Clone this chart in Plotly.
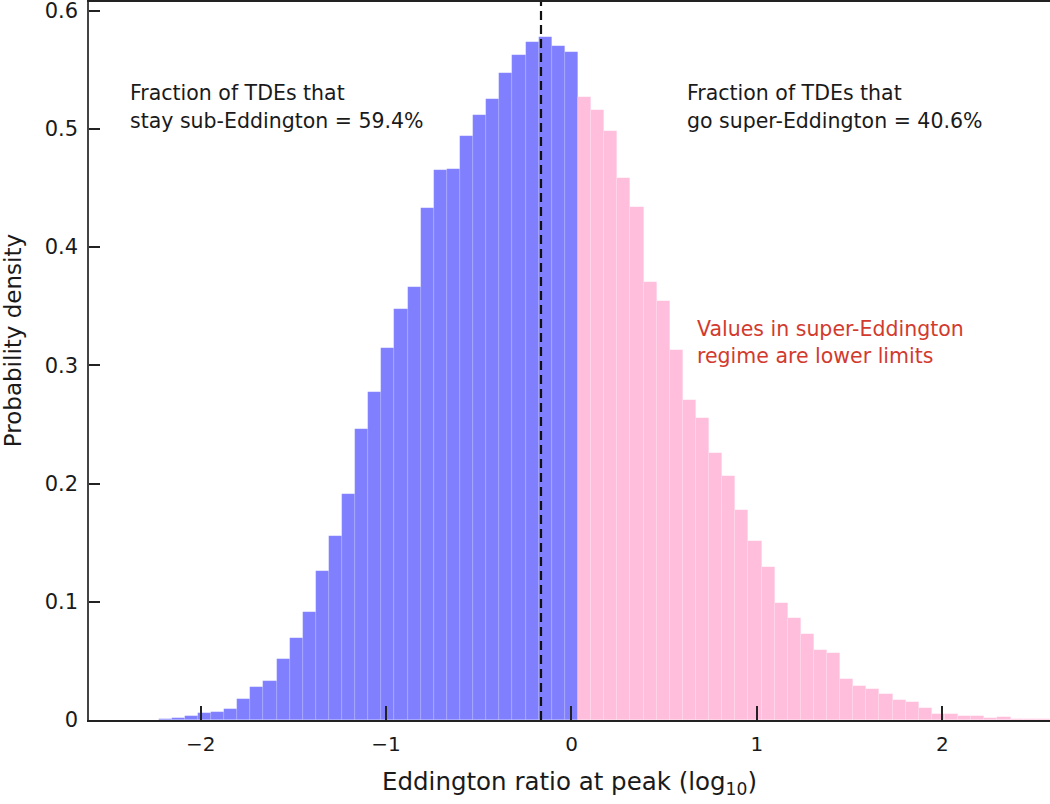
import plotly.graph_objects as go

# Bin centres (log10 Eddington ratio) and probability densities
sub_x = [-0.0004, -0.0711, -0.1418, -0.2125, -0.2832, -0.3539, -0.4246, -0.4953,
         -0.5660, -0.6367, -0.7074, -0.7781, -0.8488, -0.9195, -0.9902, -1.0609,
         -1.1316, -1.2023, -1.2730, -1.3437, -1.4144, -1.4851, -1.5558, -1.6265,
         -1.6972, -1.7679, -1.8386, -1.9093, -1.9800, -2.0507, -2.1214, -2.1921,
         -2.2628, -2.3335, -2.4042]
sub_y = [0.565, 0.570, 0.578, 0.573, 0.562, 0.547, 0.525, 0.512,
         0.494, 0.466, 0.465, 0.433, 0.366, 0.348, 0.315, 0.277,
         0.246, 0.191, 0.156, 0.126, 0.091, 0.069, 0.052, 0.033,
         0.028, 0.018, 0.009, 0.007, 0.006, 0.0035, 0.002, 0.001,
         0.0004, 0.0002, 0.0001]

super_x = [0.0704, 0.1411, 0.2118, 0.2825, 0.3532, 0.4239, 0.4946, 0.5653,
           0.6360, 0.7067, 0.7774, 0.8481, 0.9188, 0.9895, 1.0602, 1.1309,
           1.2016, 1.2723, 1.3430, 1.4137, 1.4844, 1.5551, 1.6258, 1.6965,
           1.7672, 1.8379, 1.9086, 1.9793, 2.0500, 2.1207, 2.1914, 2.2621,
           2.3328, 2.4035, 2.4742, 2.5449]
super_y = [0.527, 0.516, 0.498, 0.458, 0.434, 0.370, 0.354, 0.313,
           0.271, 0.255, 0.226, 0.206, 0.178, 0.151, 0.129, 0.099,
           0.086, 0.073, 0.059, 0.057, 0.035, 0.029, 0.026, 0.022,
           0.017, 0.015, 0.010, 0.005, 0.005, 0.003, 0.003, 0.0013,
           0.0025, 0.0005, 0.0008, 0.0005]

bin_width = 0.0707
median_x = -0.1645

x_ticks = [-2, -1, 0, 1, 2]
x_tick_labels = ["\u22122", "\u22121", "0", "1", "2"]
y_ticks = [0, 0.1, 0.2, 0.3, 0.4, 0.5, 0.6]
y_tick_labels = ["0", "0.1", "0.2", "0.3", "0.4", "0.5", "0.6"]

FONT = "DejaVu Sans"
INK = "#1a1a1a"

fig = go.Figure()
fig.add_trace(go.Bar(x=sub_x, y=sub_y, width=bin_width,
                     marker=dict(color="#8080FF",
                                 line=dict(color="rgba(255,255,255,0.18)", width=0.6)),
                     hoverinfo="x+y", showlegend=False))
fig.add_trace(go.Bar(x=super_x, y=super_y, width=bin_width,
                     marker=dict(color="#FFBEDC",
                                 line=dict(color="rgba(255,255,255,0.25)", width=0.6)),
                     hoverinfo="x+y", showlegend=False))

fig.add_shape(type="line", xref="x", yref="paper", x0=median_x, x1=median_x,
              y0=0, y1=1, line=dict(color="#111111", width=2.2, dash="9px,5px"))

txt = dict(family=FONT, size=20.5, color=INK)
red = dict(family=FONT, size=20.5, color="#D23A2E")
ann = [
    dict(x=-2.392, y=0.5305, text="Fraction of TDEs that", font=txt),
    dict(x=-2.392, y=0.5068, text="stay sub-Eddington = 59.4%", font=txt),
    dict(x=0.612, y=0.5305, text="Fraction of TDEs that", font=txt),
    dict(x=0.612, y=0.5068, text="go super-Eddington = 40.6%", font=txt),
    dict(x=0.666, y=0.3308, text="Values in super-Eddington", font=red),
    dict(x=0.666, y=0.3080, text="regime are lower limits", font=red),
]
for a in ann:
    fig.add_annotation(xref="x", yref="y", xanchor="left", yanchor="middle",
                       showarrow=False, **a)

fig.add_annotation(xref="paper", yref="paper", x=-0.0791, y=0.529,
                   text="Probability density", textangle=-90, showarrow=False,
                   xanchor="center", yanchor="middle",
                   font=dict(family=FONT, size=23, color=INK))

fig.update_layout(
    width=1050, height=804,
    margin=dict(l=89, r=0, t=2, b=84),
    paper_bgcolor="white", plot_bgcolor="white",
    bargap=0, barmode="overlay",
    font=dict(family=FONT, size=20, color=INK),
    xaxis=dict(range=[-2.6025, 2.581], tickvals=x_ticks, ticktext=x_tick_labels,
               ticks="inside", ticklen=14, tickwidth=1.5, tickcolor="#222",
               showline=True, linecolor="#222", linewidth=1.5, mirror=True,
               showgrid=False, zeroline=False, ticklabelstandoff=5,
               tickfont=dict(family=FONT, size=20, color=INK),
               title=dict(text="Eddington ratio at peak (log<sub>10</sub>)",
                          font=dict(family=FONT, size=24.5, color=INK),
                          standoff=18)),
    yaxis=dict(range=[0, 0.6072], tickvals=y_ticks, ticktext=y_tick_labels,
               ticks="inside", ticklen=11, tickwidth=1.5, tickcolor="#222",
               showline=True, linecolor="#444", linewidth=1.5, mirror=False,
               showgrid=False, zeroline=False, ticklabelstandoff=5,
               ticklabeloverflow="allow",
               tickfont=dict(family=FONT, size=21, color=INK)),
)

fig.write_html("out.html", config={"displayModeBar": False},
               post_script="document.body.style.margin='0';document.body.style.overflow='hidden';")
